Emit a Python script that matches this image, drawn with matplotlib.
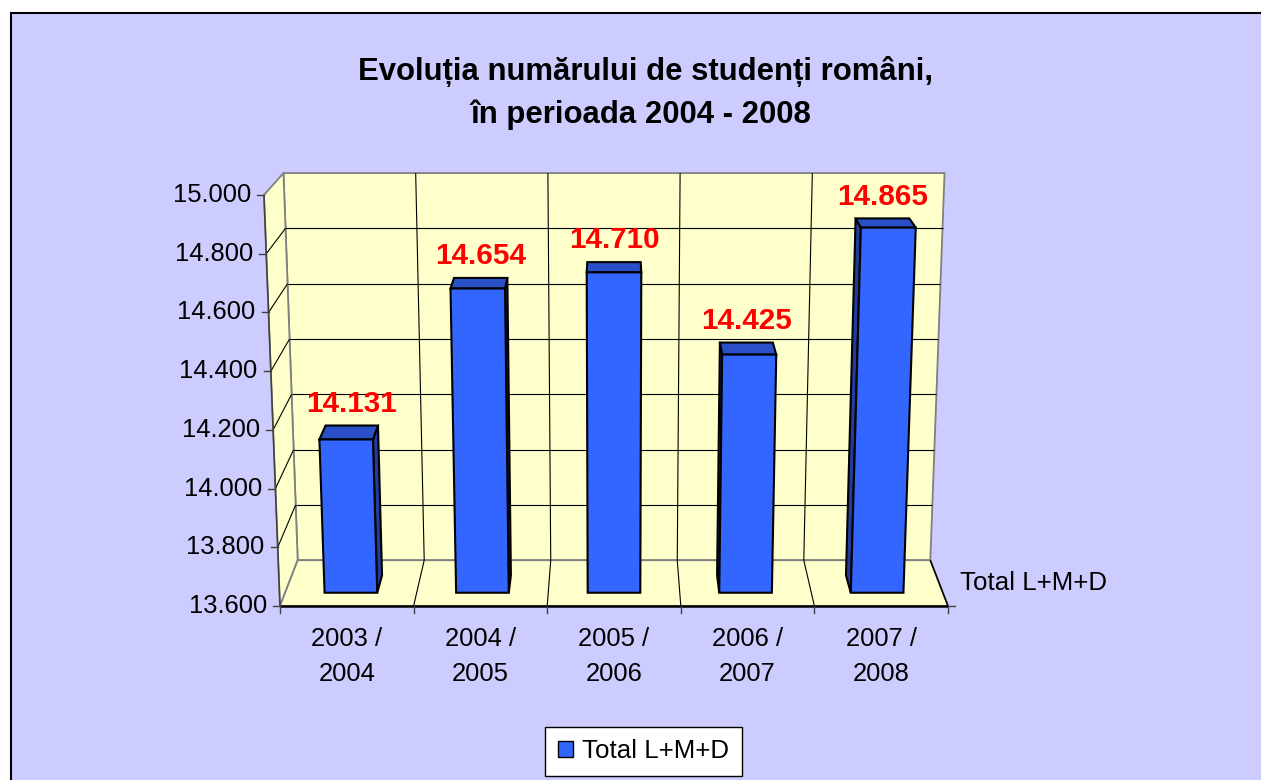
import numpy as np
import matplotlib
matplotlib.use("Agg")
import matplotlib.pyplot as plt
import matplotlib.transforms as mtransforms
from matplotlib.patches import Polygon, Rectangle, Patch

# ---------------- data ----------------
categories = ["2003 /\n2004", "2004 /\n2005", "2005 /\n2006", "2006 /\n2007", "2007 /\n2008"]
values = [14131, 14654, 14710, 14425, 14865]
series_name = "Total L+M+D"
y_ticks = [13600, 13800, 14000, 14200, 14400, 14600, 14800, 15000]
title_lines = ["Evoluția numărului de studenți români,", "în perioada 2004 - 2008"]

# ---------------- style ----------------
plt.rcParams['font.family'] = ['Liberation Sans', 'DejaVu Sans']
BG = '#CCCCFF'
WALL = '#FFFFCC'
FRONT = '#3366FF'
TOP = '#2A50C8'
SIDE = '#1F3D99'
EDGE_GRAY = '#808080'

W, H = 1261, 780
fig = plt.figure(figsize=(W / 100, H / 100), dpi=100, facecolor='white')
fig.add_artist(Rectangle((11 / W, -0.05), 1.1, (H - 12.5) / H + 0.05,
                         transform=fig.transFigure, facecolor=BG,
                         edgecolor='black', lw=1.5, zorder=-10))

ax = fig.add_axes([280 / W, (H - 606) / H, 668 / W, 411 / H])
n = len(values)
ymin, ymax = y_ticks[0], y_ticks[-1]
ax.set_xlim(-0.5, n - 0.5)
ax.set_ylim(ymin, ymax)
ax.set_facecolor('none')
for sp in ax.spines.values():
    sp.set_visible(False)

# ---------------- simple perspective (data space) ----------------
px_per_val = 411 / (ymax - ymin)
CX = (n - 1) / 2.0               # horizontal vanishing centre (data x)
VV = ymin + 789 / px_per_val     # vertical vanishing point (data value)
SHRINK = 0.058                   # scale reduction from front (d=0) to back wall (d=1)
CONV = 1.168e-4 * px_per_val     # convergence of verticals (camera looks down)


def project(x, v, d):
    x = np.asarray(x, float)
    v = np.asarray(v, float)
    s = 1 - SHRINK * d
    xs = CX + (x - CX) * s
    vs = VV + (v - VV) * s
    g = 1 + CONV * (vs - ymin)
    return CX + (xs - CX) * g, vs


class Persp(mtransforms.Transform):
    input_dims = 2
    output_dims = 2
    is_separable = False
    has_inverse = False

    def __init__(self, dist):
        super().__init__()
        self._dist = dist

    def transform_non_affine(self, values):
        values = np.asarray(values, float).reshape(-1, 2)
        X, V = project(values[:, 0], values[:, 1], self._dist)
        return np.column_stack([X, V])


def poly(pts, **kw):
    xs, vs = zip(*[project(p[0], p[1], p[2]) for p in pts])
    p = Polygon(np.column_stack([xs, vs]), closed=True, clip_on=False, **kw)
    ax.add_patch(p)
    return p


def line3(p0, p1, **kw):
    x0, v0 = project(*p0)
    x1, v1 = project(*p1)
    ax.plot([x0, x1], [v0, v1], clip_on=False, solid_capstyle='butt', **kw)


xl, xr = -0.5, n - 0.5
# walls and floor
poly([(xl, ymin, 1), (xr, ymin, 1), (xr, ymax, 1), (xl, ymax, 1)],
     facecolor=WALL, edgecolor=EDGE_GRAY, lw=1.3, zorder=0.5)
poly([(xl, ymin, 0), (xl, ymin, 1), (xl, ymax, 1), (xl, ymax, 0)],
     facecolor=WALL, edgecolor=EDGE_GRAY, lw=1.3, zorder=0.5)
poly([(xl, ymin, 0), (xr, ymin, 0), (xr, ymin, 1), (xl, ymin, 1)],
     facecolor=WALL, edgecolor=EDGE_GRAY, lw=1.3, zorder=0.5)

# gridlines
for t in y_ticks[1:-1]:
    line3((xl, t, 1), (xr, t, 1), color='black', lw=0.8, zorder=1)
    line3((xl, t, 0), (xl, t, 1), color='black', lw=0.8, zorder=1)
for b in np.arange(0.5, n - 0.5, 1.0):
    line3((b, ymin, 1), (b, ymax, 1), color='black', lw=0.8, zorder=1)
    line3((b, ymin, 0), (b, ymin, 1), color='black', lw=0.8, zorder=1)

# axis lines / edges
line3((xl, ymin, 0), (xr, ymin, 0), color='black', lw=1.8, zorder=2)
line3((xr, ymin, 0), (xr, ymin, 1), color='black', lw=1.1, zorder=2)
line3((xl, ymin, 0), (xl, ymax, 0), color='#404040', lw=1.1, zorder=2)

tick_dx = 7 / (668 / n)
tick_dv = 7 / px_per_val
for t in y_ticks:
    x0, v0 = project(xl, t, 0)
    ax.plot([x0 - tick_dx, x0], [v0, v0], color='#404040', lw=1.0, clip_on=False, zorder=2)
    ax.annotate(f"{t:,}".replace(",", "."), xy=(x0, v0), xytext=(-9.5, 0),
                textcoords='offset points', ha='right', va='center',
                fontsize=18.4, annotation_clip=False)
for b in np.arange(-0.5, n, 1.0):
    ax.plot([b, b], [ymin, ymin - tick_dv], color='#404040', lw=1.0, clip_on=False, zorder=2)
ax.plot([xr, xr + tick_dx], [ymin, ymin], color='#404040', lw=1.0, clip_on=False, zorder=2)

# ---------------- bars ----------------
HW = 0.2
D0, D1 = 0.29, 0.67
xpos = np.arange(n)
for x, v in zip(xpos, values):
    if x + HW < CX:
        poly([(x + HW, ymin, D0), (x + HW, v, D0), (x + HW, v, D1), (x + HW, ymin, D1)],
             facecolor=SIDE, edgecolor='black', lw=1.5, zorder=3)
    elif x - HW > CX:
        poly([(x - HW, ymin, D0), (x - HW, v, D0), (x - HW, v, D1), (x - HW, ymin, D1)],
             facecolor=SIDE, edgecolor='black', lw=1.5, zorder=3)
    poly([(x - HW, v, D0), (x + HW, v, D0), (x + HW, v, D1), (x - HW, v, D1)],
         facecolor=TOP, edgecolor='black', lw=1.5, zorder=3)

ax.bar(xpos, np.array(values) - ymin, bottom=ymin, width=2 * HW,
       color=FRONT, edgecolor='black', linewidth=1.5, zorder=3.2,
       transform=Persp(D0) + ax.transData, clip_on=False)
ax.set_xlim(-0.5, n - 0.5)
ax.set_ylim(ymin, ymax)

for x, v in zip(xpos, values):
    px, pv = project(x, v, D1)
    ax.annotate(f"{v:,}".replace(",", "."), xy=(px, pv), xytext=(0, 10),
                textcoords='offset points', ha='center', va='baseline',
                color='#FF0000', fontweight='bold', fontsize=21.3,
                annotation_clip=False, zorder=5)

# depth-axis label
px, pv = project(xr, ymin, 0.5)
ax.annotate(series_name, xy=(px, pv), xytext=(15, 0), textcoords='offset points',
            ha='left', va='center', fontsize=18.6, annotation_clip=False)

# category labels
ax.set_yticks([])
ax.set_xticks(xpos)
ax.set_xticklabels(categories, fontsize=18.4, linespacing=1.6)
ax.tick_params(axis='x', length=0, pad=15)

# title
fig.text(645 / W, 1 - 80 / H, title_lines[0], ha='center', va='baseline',
         fontsize=22.4, fontweight='bold')
fig.text(641 / W, 1 - 123 / H, title_lines[1], ha='center', va='baseline',
         fontsize=22.4, fontweight='bold')

# legend
leg = fig.legend(handles=[Patch(facecolor=FRONT, edgecolor='black', lw=1.0)],
                 labels=[series_name], loc='center',
                 bbox_to_anchor=(643.5 / W, 1 - 751.5 / H), fontsize=18.6,
                 frameon=True, fancybox=False, edgecolor='black', facecolor='white',
                 framealpha=1.0,
                 handlelength=0.58, handleheight=0.58, handletextpad=0.35,
                 borderpad=0.5, borderaxespad=0)
leg.get_frame().set_linewidth(1.0)

fig.savefig("out.png", dpi=100, facecolor=fig.get_facecolor())
